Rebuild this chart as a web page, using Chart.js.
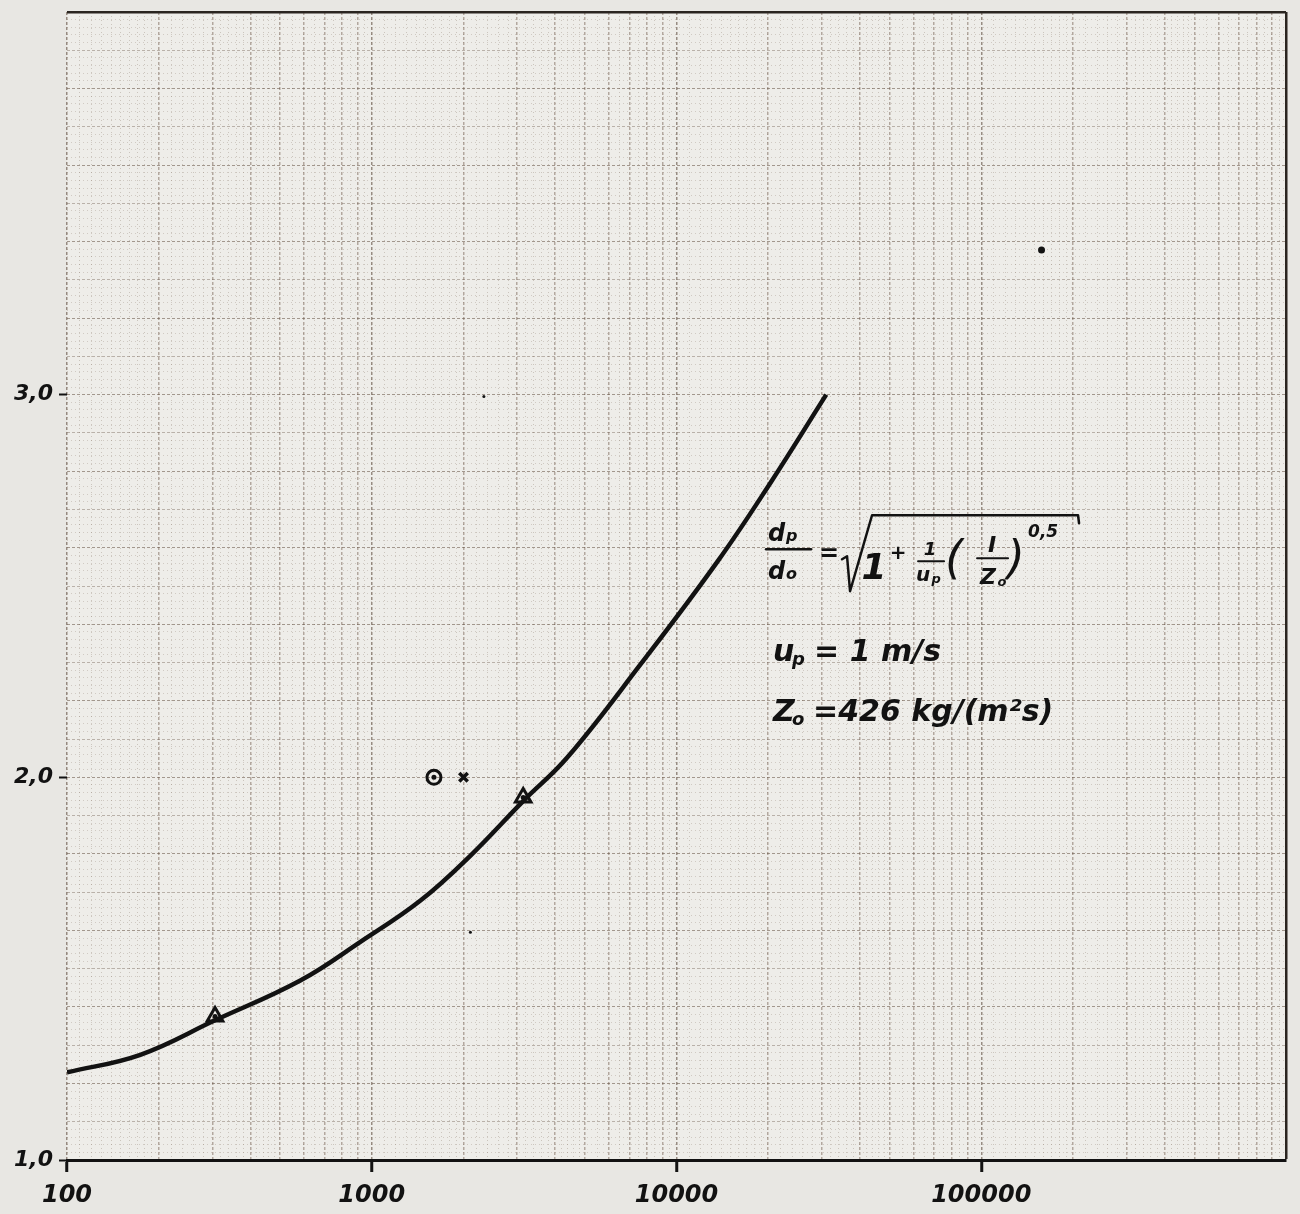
<!DOCTYPE html>
<html>
<head>
<meta charset="utf-8">
<script src="https://cdn.jsdelivr.net/npm/chart.js@4.4.1/dist/chart.umd.min.js"></script>
<style>
  body { margin: 0; background: #e8e7e3; }
  #wrap { width: 1300px; height: 1214px; }
</style>
</head>
<body>
<div id="wrap"><canvas id="myChart" width="1300" height="1214"></canvas></div>
<script>
// curve d_p/d_0
const curveI = [100, 174, 306, 583, 918, 1445, 2105, 3140, 4372, 7617, 13660, 20350, 31000];
const curveV = [1.229, 1.275, 1.365, 1.469, 1.57, 1.678, 1.795, 1.938, 2.051, 2.295, 2.565, 2.77, 3.00];

// measured points
const triangleI = [306, 3140];
const triangleV = [1.375, 1.947];
const circleI = [1600];
const circleV = [2.0];
const crossI = [2000];
const crossV = [2.0];
const speckI = [157700, 2333, 2107];
const speckV = [3.378, 2.995, 1.595];

// axes
const xTickValues = [100, 1000, 10000, 100000];
const xTickLabels = ['100', '1000', '10000', '100000'];
const yTickValues = [1, 2, 3];
const yTickLabels = ['1,0', '2,0', '3,0'];

const pts = (xs, ys) => xs.map((x, i) => ({ x: x, y: ys[i] }));

// graph paper lines
function logPaperTicks() {
  const out = [];
  for (let d = 100; d < 1000000; d *= 10) {
    for (let m = 10; m < 20; m++) out.push({ value: d * m / 10 });
    for (let m = 20; m < 50; m += 2) out.push({ value: d * m / 10 });
    for (let m = 50; m < 100; m += 5) out.push({ value: d * m / 10 });
  }
  out.push({ value: 1000000 });
  return out;
}
function linPaperTicks() {
  const out = [];
  for (let i = 0; i <= 150; i++) out.push({ value: Math.round(100 + i * 2) / 100 });
  return out;
}

function xMant(v) {
  const e = Math.floor(Math.log10(v) + 1e-9);
  return Math.round(v / Math.pow(10, e) * 10) / 10;
}

const ink = '#121212';

const paper = {
  id: 'paper',
  beforeDraw(chart) {
    const { ctx, chartArea: a } = chart;
    ctx.save();
    ctx.fillStyle = '#eeede9';
    ctx.fillRect(a.left, a.top, a.right - a.left, a.bottom - a.top);
    ctx.restore();
  },
  afterDraw(chart) {
    const { ctx } = chart;
    const xs = chart.scales.x, ys = chart.scales.y;
    const ax = xs.getPixelForValue(18240), ay = ys.getPixelForValue(2.596);
    const P = (dx, dy) => [ax + dx, ay + dy];
    const fam = '"DejaVu Sans"';
    function t(s, dx, dy, size, align, weight) {
      const [x, y] = P(dx, dy);
      ctx.font = 'italic ' + (weight || 'bold') + ' ' + size + 'px ' + fam;
      ctx.textAlign = align || 'left';
      ctx.textBaseline = 'alphabetic';
      ctx.fillText(s, x, y);
    }
    function line(list, w) {
      ctx.beginPath();
      list.forEach((p, i) => {
        const [x, y] = P(p[0], p[1]);
        if (i === 0) ctx.moveTo(x, y); else ctx.lineTo(x, y);
      });
      ctx.lineWidth = w;
      ctx.stroke();
    }
    ctx.save();
    ctx.fillStyle = ink;
    ctx.strokeStyle = ink;
    ctx.lineCap = 'round';
    ctx.lineJoin = 'round';

    // d_p / d_o
    t('d', 12, -8, 24);
    t('p', 30, -8, 16);
    line([[10, 0], [55, 0]], 2.5);
    t('d', 12, 30, 24);
    t('o', 30, 30, 16);
    t('=', 73, 12, 24, 'center');
    // root sign
    line([[86, 10], [91, 7], [94, 42], [116, -34], [322, -34], [323, -26]], 2.5);
    t('1', 118, 30, 36, 'center');
    t('+', 142, 10, 20, 'center');
    t('1', 174, 6, 18, 'center');
    line([[162, 12], [188, 12]], 2);
    t('u', 167, 32, 20, 'center');
    t('p', 180, 34, 13, 'center');
    t('(', 198, 24, 46, 'center', 'normal');
    t('I', 236, 3, 22, 'center');
    line([[221, 9], [252, 9]], 2);
    t('Z', 232, 35, 22, 'center');
    t('o', 246, 37, 13, 'center');
    t(')', 260, 24, 46, 'center', 'normal');
    t('0,5', 272, -12, 17);

    // parameters
    t('u', 17, 112, 30);
    t('p', 36, 116, 18);
    t('= 1 m/s', 58, 112, 30);
    t('Z', 17, 172, 30);
    t('o', 36, 176, 18);
    t('=426 kg/(m\u00b2s)', 57, 172, 30);
    ctx.restore();
  }
};

const ctx = document.getElementById('myChart').getContext('2d');
const myChart = new Chart(ctx, {
  type: 'scatter',
  data: {
    datasets: [
      {
        label: 'curve',
        type: 'line',
        data: pts(curveI, curveV),
        borderColor: ink,
        borderWidth: 4.5,
        pointRadius: 0,
        tension: 0.4,
        fill: false
      },
      {
        label: 'triangles',
        data: pts(triangleI, triangleV),
        pointStyle: 'triangle',
        pointRadius: 9,
        borderColor: ink,
        borderWidth: 3,
        backgroundColor: 'rgba(0,0,0,0)'
      },
      {
        label: 'circle',
        data: pts(circleI, circleV),
        pointStyle: 'circle',
        pointRadius: 7,
        borderColor: ink,
        borderWidth: 3,
        backgroundColor: 'rgba(0,0,0,0)'
      },
      {
        label: 'centre dots',
        data: pts(triangleI.concat(circleI), triangleV.concat(circleV)),
        pointStyle: 'circle',
        pointRadius: 2.5,
        borderWidth: 0,
        backgroundColor: ink
      },
      {
        label: 'cross',
        data: pts(crossI, crossV),
        pointStyle: 'crossRot',
        pointRadius: 6,
        borderColor: ink,
        borderWidth: 3.5
      },
      {
        label: 'specks',
        data: pts(speckI, speckV),
        pointStyle: 'circle',
        pointRadius: [3.5, 1.5, 1.5],
        borderWidth: 0,
        backgroundColor: ink
      }
    ]
  },
  options: {
    responsive: false,
    animation: false,
    events: [],
    layout: { padding: { left: 0, right: 14, top: 9, bottom: 0 } },
    plugins: { legend: { display: false }, tooltip: { enabled: false } },
    scales: {
      x: {
        type: 'logarithmic',
        min: 100,
        max: 1000000,
        afterBuildTicks: s => { s.ticks = logPaperTicks(); },
        afterFit: s => { s.height = 54; },
        border: {
          display: true, color: ink, width: 3,
          dash: c => {
            const v = c.tick && c.tick.value;
            if (!v || v >= 1000000) return [];
            return Number.isInteger(xMant(v)) ? [3, 2] : [1, 3];
          }
        },
        grid: {
          drawTicks: true,
          tickLength: 12,
          color: c => {
            const v = c.tick && c.tick.value;
            if (!v) return 'rgba(0,0,0,0)';
            if (v >= 1000000) return '#2a2520';
            const m = xMant(v);
            if (m === 1) return 'rgba(80,60,45,0.55)';
            if (Number.isInteger(m)) return 'rgba(95,72,55,0.42)';
            return 'rgba(115,92,75,0.28)';
          },
          lineWidth: c => {
            const v = c.tick && c.tick.value;
            if (!v) return 1;
            if (v >= 1000000) return 2.5;
            const m = xMant(v);
            return Number.isInteger(m) ? 1.5 : 1;
          },
          tickColor: c => (c.tick && xTickValues.includes(c.tick.value)) ? ink : 'rgba(0,0,0,0)',
          tickWidth: 3
        },
        ticks: {
          autoSkip: false,
          maxRotation: 0,
          minRotation: 0,
          padding: 9,
          color: ink,
          font: { family: 'DejaVu Sans', size: 24, style: 'italic', weight: 'bold' },
          callback: v => {
            const i = xTickValues.indexOf(v);
            return i >= 0 ? xTickLabels[i] : '';
          }
        }
      },
      y: {
        type: 'linear',
        min: 1,
        max: 4,
        afterBuildTicks: s => { s.ticks = linPaperTicks(); },
        afterFit: s => { s.width = 67; s.paddingTop = 0; s.paddingBottom = 0; },
        border: {
          display: false,
          dash: c => {
            const v = c.tick && c.tick.value;
            if (v === undefined || v >= 4) return [];
            const k = Math.round(v * 100);
            return k % 10 === 0 ? [3, 2] : [1, 3];
          }
        },
        grid: {
          drawTicks: true,
          tickLength: 8,
          color: c => {
            const v = c.tick && c.tick.value;
            if (v === undefined) return 'rgba(0,0,0,0)';
            if (v >= 4) return '#2a2520';
            if (v <= 1) return 'rgba(0,0,0,0)';
            const k = Math.round(v * 100);
            if (k % 20 === 0) return 'rgba(85,65,50,0.5)';
            if (k % 10 === 0) return 'rgba(100,80,65,0.38)';
            return 'rgba(120,100,85,0.25)';
          },
          lineWidth: c => {
            const v = c.tick && c.tick.value;
            if (v >= 4) return 2.5;
            return 1;
          },
          tickColor: c => (c.tick && yTickValues.includes(c.tick.value)) ? ink : 'rgba(0,0,0,0)',
          tickWidth: 2
        },
        ticks: {
          autoSkip: false,
          padding: 6,
          color: ink,
          font: { family: 'DejaVu Sans', size: 22, style: 'italic', weight: 'bold' },
          callback: v => {
            const i = yTickValues.indexOf(v);
            return i >= 0 ? yTickLabels[i] : '';
          }
        }
      }
    }
  },
  plugins: [paper]
});
</script>
</body>
</html>
